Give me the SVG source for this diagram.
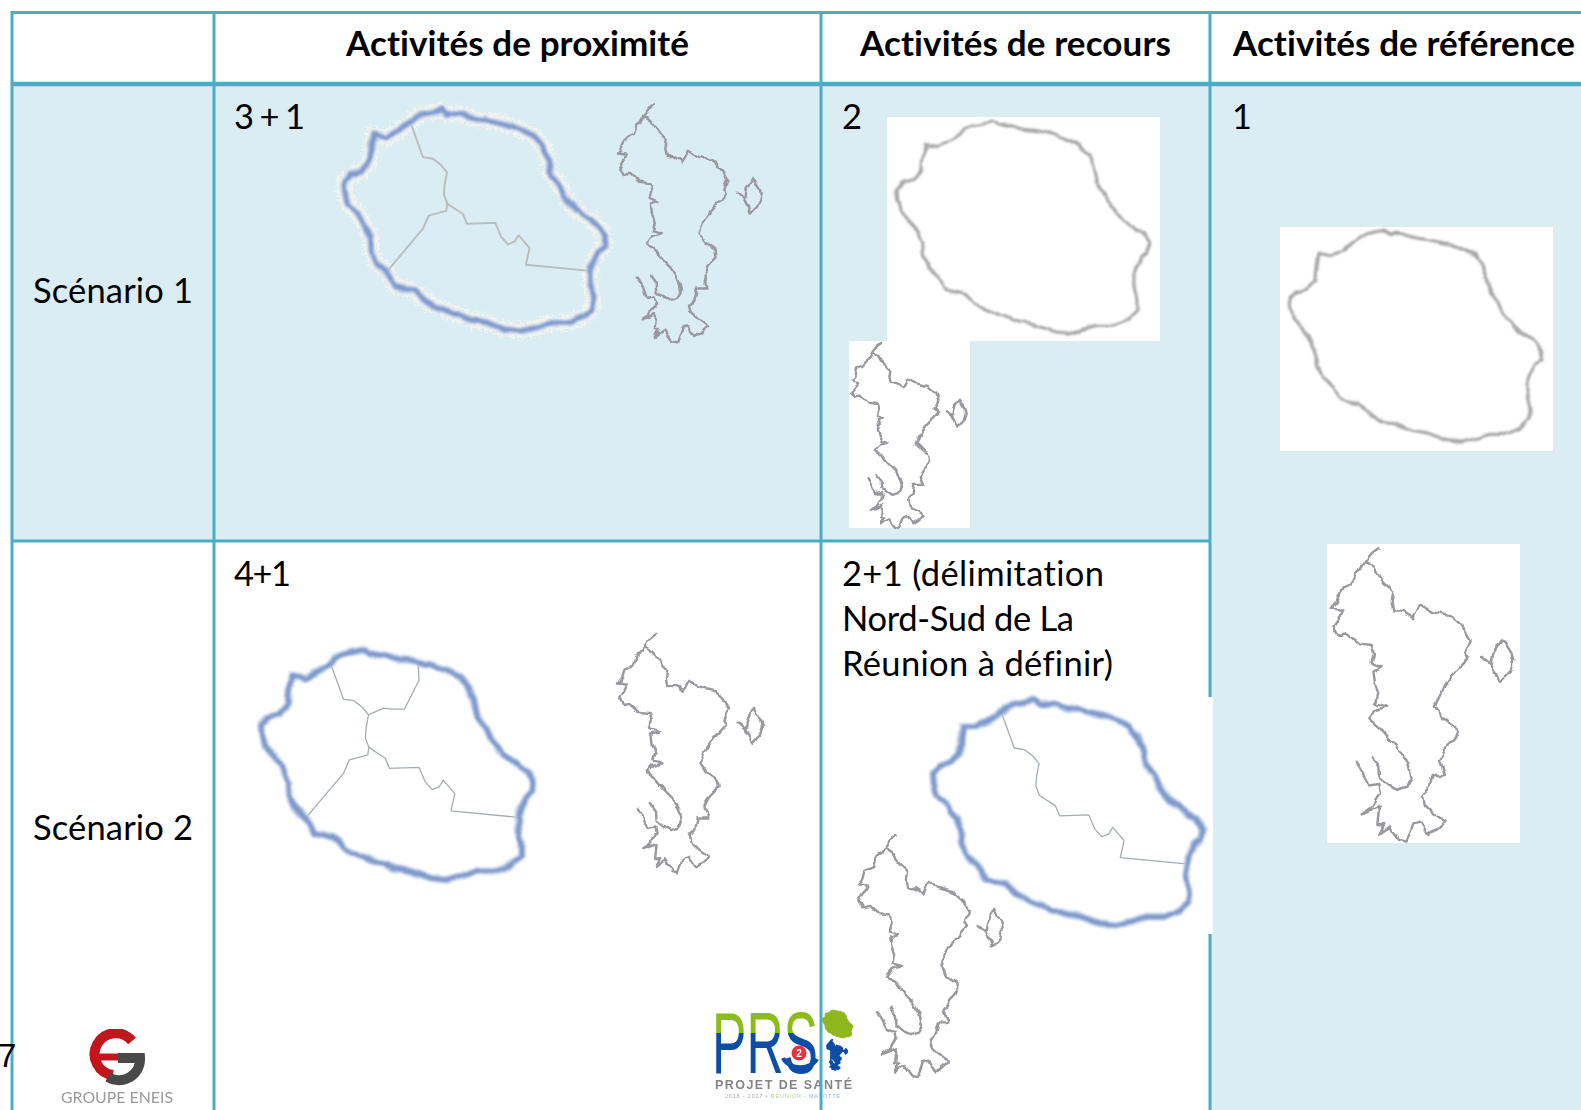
<svg xmlns="http://www.w3.org/2000/svg" width="1581" height="1110" viewBox="0 0 1581 1110">
<style>
text{font-family:"Lato","Liberation Sans",sans-serif;fill:#000;font-variant-ligatures:none}
.h{font-size:35px;font-weight:700}
.t{font-size:34.5px}
.line{stroke:#4bacc6;stroke-width:3;fill:none}
.thick{stroke-width:4.5}
.np{vector-effect:non-scaling-stroke;stroke-linejoin:round;stroke-linecap:round}
.gray{fill:none;stroke:#a8a8a8;stroke-width:3.2}
.may{fill:none;stroke:#98989e;stroke-width:2.4}
.halo{fill:none;stroke:#c3d1e8;stroke-width:8}
.blue{fill:none;stroke:#7f99cb;stroke-width:4.2}
.speck{fill:none;stroke:#f6f5ee;stroke-width:16;stroke-dasharray:1 8 2 12 1 6;opacity:.85}
.in{fill:none;stroke:#a3adb2;stroke-width:1.3}
.ins{fill:none;stroke:#b9bdbd;stroke-width:1.9}
</style>
<defs>
<filter id="b" x="-5%" y="-5%" width="110%" height="110%"><feGaussianBlur stdDeviation="0.4"/></filter>
<filter id="bl" x="-5%" y="-5%" width="110%" height="110%"><feGaussianBlur stdDeviation="0.6"/></filter>
<filter id="w" x="-5%" y="-5%" width="110%" height="110%" color-interpolation-filters="sRGB"><feTurbulence type="fractalNoise" baseFrequency=".07" numOctaves="1" seed="3"/><feDisplacementMap in="SourceGraphic" scale="7" xChannelSelector="R" yChannelSelector="G"/><feGaussianBlur stdDeviation="1"/></filter>
<filter id="wm" x="-5%" y="-5%" width="110%" height="110%" color-interpolation-filters="sRGB"><feTurbulence type="fractalNoise" baseFrequency=".11" numOctaves="1" seed="8"/><feDisplacementMap in="SourceGraphic" scale="7" xChannelSelector="R" yChannelSelector="G"/><feGaussianBlur stdDeviation="0.7"/></filter>
<filter id="sp" x="-8%" y="-8%" width="116%" height="116%" color-interpolation-filters="sRGB"><feTurbulence type="fractalNoise" baseFrequency=".45" numOctaves="2" seed="5"/><feDisplacementMap in="SourceGraphic" scale="14" xChannelSelector="R" yChannelSelector="G"/><feGaussianBlur stdDeviation="0.5"/></filter>
<path id="re" class="np" d="M270 125L285 112 300 103 330 97 362 90 380 102 400 100 420 102 445 112 470 118 495 120 520 125 560 135 600 150 640 170 665 200 680 240 690 290 715 320 730 355 765 400 800 425 835 450 852 480 850 510 830 525 815 560 806 585 806 620 815 660 815 700 790 725 740 745 690 745 640 760 600 770 555 765 500 745 450 735 385 710 345 695 310 675 280 645 220 630 208 605 195 585 165 560 150 520 148 480 135 450 110 410 78 375 70 340 68 310 85 290 120 280 145 250 150 200 155 165 195 172 235 150Z"/>
<path id="ra" class="np" d="M268 130L305 235 335 240 360 260 377 282 370 320 368 350 378 378"/>
<path id="rb" class="np" d="M378 378L375 400 322 415 305 455 200 583"/>
<path id="rc" class="np" d="M378 378L425 410 437 440 522 437 540 480 560 503 580 495 592 475 625 515 614 566 806 585"/>
<path id="rd" class="np" d="M377 282L420 262 445 265 480 265 522 180 520 128"/>
<path id="ma" class="np" d="M235 55L215 70 195 95 185 115 165 130 155 165 120 180 110 215 95 235 130 240 120 260 100 290 115 315 140 310 175 340 215 345 222 370 215 400 245 412 220 420 225 460 235 490 228 520 262 530 225 540 205 565 240 595 265 625 300 660 325 700 335 745 320 770 295 778 265 765 240 745 238 710 218 682M170 698L190 730 205 770 235 765 240 790 215 830 185 850 240 830 235 885 250 885 235 915 270 890 300 930 320 935 340 880 360 875 385 915 410 900 437 875 400 850 370 820 365 795 385 775 395 735 435 735 420 690 440 650 470 620 465 590 430 565 405 530 420 490 445 450 505 385 495 370 512 330 490 290 455 260 395 245 360 225 340 265 310 245 280 245 275 215 280 185 245 150 225 115 195 95M545 380L575 405 580 370 607 325 635 370 640 395 630 425 600 458 585 425 575 405"/>
<linearGradient id="prs" x1="0" y1="0" x2="0" y2="1"><stop offset="0.4" stop-color="#8cbb1c"/><stop offset="0.4" stop-color="#0d4ea6"/></linearGradient>
</defs>

<g id="backgrounds">
<rect x="12" y="84" width="1198" height="456" fill="#daedf3"/>
<rect x="1210" y="84" width="371" height="1026" fill="#daedf3"/>
</g>

<g id="logo-eneis" filter="url(#bl)">
<path d="M132 1041A21 21 0 1 0 113 1075" fill="none" stroke="#c0161f" stroke-width="10"/>
<path d="M98 1057H120" stroke="#c0161f" stroke-width="7"/>
<path d="M118 1058H140A21 21 0 0 1 108 1077" fill="none" stroke="#4a4a4a" stroke-width="10"/>
<text x="61" y="1103" font-size="14.5" textLength="112" lengthAdjust="spacingAndGlyphs" style="fill:#9a9a9a">GROUPE ENEIS</text>
</g>

<g id="logo-prs" filter="url(#bl)">
<text x="712" y="1073" textLength="106" lengthAdjust="spacingAndGlyphs" font-size="88" style="font-family:'Liberation Sans',sans-serif;fill:url(#prs)">PRS</text>
<path d="M783 1058A18 13 0 0 0 817 1059" fill="none" stroke="#0d4ea6" stroke-width="4"/>
<circle cx="799" cy="1053" r="7.5" fill="#e8303a"/>
<text x="799" y="1057" text-anchor="middle" font-size="10" font-weight="700" style="fill:#fff;font-family:'Liberation Sans',sans-serif">2</text>
<use href="#re" transform="translate(819.3 1006.3) scale(.0395 .041)" style="fill:#8db71a;stroke:#8db71a;stroke-width:1"/>
<use href="#ma" transform="translate(823.5 1038) scale(.037 .034)" style="fill:#0d4ea6;stroke:#0d4ea6;stroke-width:2"/>
<text x="715" y="1089" font-size="12.5" font-weight="700" textLength="137" lengthAdjust="spacing" style="fill:#858585;font-family:'Liberation Sans',sans-serif">PROJET DE SANTÉ</text>
<text x="725" y="1098" font-size="5.5" textLength="115" lengthAdjust="spacing" style="fill:#a8a8a8;font-family:'Liberation Sans',sans-serif">2018 - 2027 • <tspan style="fill:#b5d488">RÉUNION</tspan> - <tspan style="fill:#9ab4dc">MAYOTTE</tspan></text>
</g>

<g id="connectors">
<path class="line" d="M11 12.5H1581M12 1110V11M214 11V1110M821 11V1110M1210 11V1110"/>
<path class="line thick" d="M11 84H1581"/>
<path class="line" d="M11 541H1210"/>
</g>

<g id="header">
<text class="h" x="346" y="56" textLength="343">Activités de proximité</text>
<text class="h" x="860" y="56" textLength="311">Activités de recours</text>
<text class="h" x="1233" y="56" textLength="342">Activités de référence</text>
</g>

<g id="row-labels">
<text class="t" x="33" y="303" textLength="160">Scénario 1</text>
<text class="t" x="33" y="840" textLength="160">Scénario 2</text>
</g>

<g id="s1-proximite">
<text class="t" x="234" y="129" textLength="71">3 + 1</text>
<g filter="url(#sp)"><use href="#re" class="speck" transform="translate(321.4 80.8) scale(.333 .325)"/></g>
<g filter="url(#b)"><g transform="translate(321.4 80.8) scale(.333 .325)"><use href="#ra" class="ins"/><use href="#rb" class="ins"/><use href="#rc" class="ins"/></g></g>
<g filter="url(#w)"><g transform="translate(321.4 80.8) scale(.333 .325)"><use href="#re" class="halo"/><use href="#re" class="blue"/></g></g>
<g filter="url(#wm)"><use href="#ma" class="may" transform="translate(593 90) scale(.263 .27)"/></g>
</g>

<g id="s1-recours">
<text class="t" x="842" y="129">2</text>
<rect x="887" y="117" width="273" height="224" fill="#fff"/>
<rect x="849" y="341" width="121" height="187" fill="#fff"/>
<g filter="url(#w)"><use href="#re" class="gray" transform="translate(875.2 92.9) scale(.321 .312)"/></g>
<g filter="url(#wm)"><use href="#ma" class="may" transform="translate(832 331.5) scale(.209 .21)"/></g>
</g>

<g id="s1-reference">
<text class="t" x="1232" y="129">1</text>
<rect x="1280" y="227" width="273" height="224" fill="#fff"/>
<rect x="1327" y="544" width="193" height="299" fill="#fff"/>
<g filter="url(#w)"><use href="#re" class="gray" transform="translate(1268.2 201.9) scale(.321 .312)"/></g>
<g filter="url(#wm)"><use href="#ma" class="may" transform="translate(1300 530) scale(.3333 .3333)"/></g>
</g>

<g id="s2-proximite">
<text class="t" x="234" y="586" textLength="57">4+1</text>
<g filter="url(#b)"><g transform="translate(237.3 619.6) scale(.348 .338)"><use href="#ra" class="in"/><use href="#rb" class="in"/><use href="#rc" class="in"/><use href="#rd" class="in"/></g></g>
<g filter="url(#w)"><g transform="translate(237.3 619.6) scale(.348 .338)"><use href="#re" class="halo"/><use href="#re" class="blue"/></g></g>
<g filter="url(#wm)"><use href="#ma" class="may" transform="translate(592.7 620) scale(.266 .27)"/></g>
</g>

<g id="s2-recours">
<text class="t" x="842" y="586" textLength="262">2+1 (délimitation</text>
<text class="t" x="842" y="631" textLength="232">Nord-Sud de La</text>
<text class="t" x="842" y="676" textLength="271">Réunion à définir)</text>
<rect x="925" y="697" width="288" height="237" fill="#fff"/>
<g filter="url(#b)"><g transform="translate(909.7 670.2) scale(.343 .331)"><use href="#ra" class="in"/><use href="#rc" class="in"/></g></g>
<g filter="url(#w)"><g transform="translate(909.7 670.2) scale(.343 .331)"><use href="#re" class="halo"/><use href="#re" class="blue"/></g></g>
<g filter="url(#wm)"><use href="#ma" class="may" transform="translate(832.7 821) scale(.266 .274)"/></g>
</g>

<g id="page-number">
<text x="-2" y="1067" font-size="33" style="font-family:'Liberation Sans',sans-serif">7</text>
</g>
</svg>
